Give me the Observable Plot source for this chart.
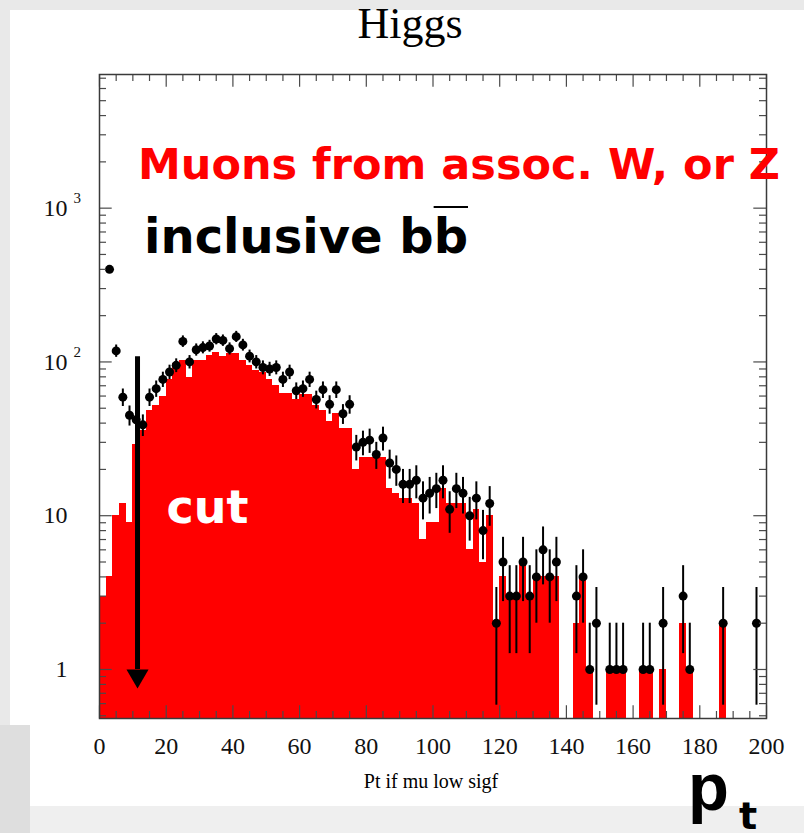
<!DOCTYPE html>
<html><head><meta charset="utf-8">
<script src="https://cdn.jsdelivr.net/npm/d3@7"></script>
<script src="https://cdn.jsdelivr.net/npm/@observablehq/plot@0.6"></script>
<style>
html,body{margin:0;padding:0;}
body{width:804px;height:833px;overflow:hidden;background:#e9e9e9;}
#stage{position:relative;width:804px;height:833px;}
.panel{position:absolute;left:10px;top:10px;width:794px;height:796px;background:#fff;}
.band{position:absolute;left:30px;top:806px;width:774px;height:27px;background:#efefef;}
.block{position:absolute;left:0;top:725px;width:30px;height:108px;background:#dedede;}
#chart{position:absolute;left:0;top:0;}
.ann{position:absolute;white-space:nowrap;line-height:1;margin:0;}
#title{left:410px;top:2.2px;transform:translateX(-50%);font-family:"Liberation Serif",serif;font-size:44px;color:#000;}
#sig{left:138px;top:142.6px;font-family:"DejaVu Sans",sans-serif;font-weight:bold;font-size:43px;color:#ff0000;}
#bkg{left:144px;top:212.4px;font-family:"DejaVu Sans",sans-serif;font-weight:bold;font-size:48px;color:#000;}
#bkg .ov{text-decoration:overline;text-decoration-thickness:2px;}
#cut{left:166.5px;top:484px;font-family:"DejaVu Sans",sans-serif;font-weight:bold;font-size:46px;color:#fff;}
#xlab{left:431px;top:771px;transform:translateX(-50%);font-family:"Liberation Serif",serif;font-size:20px;color:#000;}
#pt{left:688px;top:760px;line-height:0.8;font-family:"Liberation Sans",Arial,sans-serif;font-weight:bold;font-size:67px;color:#000;}
#ptsub{left:739px;top:802px;line-height:0.75;font-family:"DejaVu Sans",sans-serif;font-weight:bold;font-size:38px;color:#000;}
</style></head>
<body><div id="stage">
<div class="panel"></div><div class="band"></div><div class="block"></div>
<div id="chart"></div>
<div class="ann" id="title">Higgs</div>
<div class="ann" id="sig">Muons from assoc. W, or Z</div>
<div class="ann" id="bkg">inclusive b<span class="ov">b</span></div>
<div class="ann" id="cut">cut</div>
<div class="ann" id="xlab">Pt if mu low sigf</div>
<div class="ann" id="pt">p</div>
<div class="ann" id="ptsub">t</div>
</div>
<script>
// ---- data ----
const binWidth = 2;                       // GeV per bin, 0..200
const binLow = d3.range(0, 200, binWidth); // bin lower edges
// red histogram: muons from associated W or Z
const signal = [3,4,10,12,9,29,36,48,52,60,
  77,97,102,79,102,102,110,116,108,113,
  113,102,95,88,85,77,70,62,62,57,
  61,61,52,48,41,46,37,37,20,24,
  24,24,24,15,14,13,13,12,7,9,
  9,15,12,12,12,6,11,5,10,2,
  4,3,3,5,3,4,4,4,4,0,
  0,2,4,1,0,0,1,1,1,0,
  0,1,1,0,1,0,0,2,1,0,
  0,0,0,2,0,0,0,0,0,0];
// black points: inclusive bb (counts)
const inclusive = [null,400,118,59,45,42,39,59,67,77,
  86,95,136,100,120,124,127,141,138,122,
  146,129,109,100,92,90,92,77,86,65,
  67,77,57,66,53,66,46,53,28,30,
  31,25,32,22,20,16,16,17,13,14,
  15,17,11,15,14,10,13,8,12,2,
  5,3,3,5,3,4,6,4,5,null,
  null,3,4,1,2,null,1,1,1,null,
  null,1,1,null,2,null,null,3,1,null,
  null,null,null,2,null,null,null,null,2,null];
const cutPt = 11.4;            // cut position (GeV)
const cutArrowTop = 108;       // arrow starts here (counts)
const cutArrowBase = 1;        // arrow head base
const cutArrowHead = 0.91;     // arrow head centre
const xMajorTicks = [0,20,40,60,80,100,120,140,160,180,200];
const xMinorTicks = d3.range(0, 201, 5).filter(d => d % 20 !== 0);
const yMajorTicks = [1,10,100,1000];
const yMinorTicks = [0.5,0.6,0.7,0.8,0.9].concat(...[1,10,100,1000].map(dec => [2,3,4,5,6,7,8,9].map(m => m*dec))).filter(v => v < 7400);
const yDomain = [0.48, 7400];

// ---- derived tables ----
const sigRows = binLow.map((lo, i) => ({x1: lo, x2: lo + binWidth, v: signal[i]})).filter(d => d.v > 0);
const bkgRows = binLow.map((lo, i) => ({xc: lo + binWidth/2, n: inclusive[i]})).filter(d => d.n != null && d.n > 0)
  .map(d => { const e = Math.sqrt(d.n); return {...d, lo: d.n - e > 0 ? d.n - e : d.n, hi: d.n + e}; });

const W = 804, H = 760, mL = 99, mR = 38, mT = 74, mB = 42;
const fw = W - mL - mR, fh = H - mT - mB;
const majLen = 12.7, minLen = 7;
const tickColor = "#4a4a4a";

const triangleDown = {
  draw(context, size) {
    const y = Math.sqrt(size / (Math.sqrt(3) * 3));
    context.moveTo(0, y * 2);
    context.lineTo(-Math.sqrt(3) * y, -y);
    context.lineTo(Math.sqrt(3) * y, -y);
    context.closePath();
  }
};

const chart = Plot.plot({
  width: W, height: H,
  marginLeft: mL, marginRight: mR, marginTop: mT, marginBottom: mB,
  style: {background: "transparent", fontFamily: "'Liberation Serif', serif", color: "#111"},
  x: {domain: [0, 200]},
  y: {type: "log", domain: yDomain},
  marks: [
    Plot.rect(sigRows, {x1: "x1", x2: "x2", y1: yDomain[0], y2: "v", fill: "#ff0000", shapeRendering: "crispEdges", clip: true}),
    Plot.ruleX(bkgRows, {x: "xc", y1: "lo", y2: "hi", stroke: "#000", strokeWidth: 2, clip: true}),
    Plot.dot(bkgRows, {x: "xc", y: "n", r: 4.5, fill: "#000", stroke: null, clip: true}),
    // cut arrow
    Plot.ruleX([cutPt], {x: d => d, y1: cutArrowBase, y2: cutArrowTop, stroke: "#000", strokeWidth: 5}),
    Plot.dot([cutPt], {x: d => d, y: cutArrowHead, symbol: triangleDown, r: 8.2, fill: "#000", stroke: null}),
    // inward ticks, left / right
    Plot.tickY(yMajorTicks, {y: d => d, insetRight: fw - majLen, stroke: tickColor, strokeWidth: 1.2}),
    Plot.tickY(yMinorTicks, {y: d => d, insetRight: fw - minLen, stroke: tickColor, strokeWidth: 1.2}),
    Plot.tickY(yMajorTicks, {y: d => d, insetLeft: fw - majLen, stroke: tickColor, strokeWidth: 1.2}),
    Plot.tickY(yMinorTicks, {y: d => d, insetLeft: fw - minLen, stroke: tickColor, strokeWidth: 1.2}),
    // inward ticks, bottom / top
    Plot.tickX(xMajorTicks, {x: d => d, insetTop: fh - majLen, stroke: tickColor, strokeWidth: 1.2}),
    Plot.tickX(xMinorTicks, {x: d => d, insetTop: fh - minLen, stroke: tickColor, strokeWidth: 1.2}),
    Plot.tickX(xMajorTicks, {x: d => d, insetBottom: fh - majLen, stroke: tickColor, strokeWidth: 1.2}),
    Plot.tickX(xMinorTicks, {x: d => d, insetBottom: fh - minLen, stroke: tickColor, strokeWidth: 1.2}),
    Plot.frame({stroke: "#3a3a3a", strokeWidth: 1.5}),
    Plot.axisX(xMajorTicks, {tickSize: 0, tickPadding: 18, fontSize: 24, label: null, fill: "#111"}),
    Plot.axisY(yMajorTicks, {tickSize: 0, tickPadding: 32, fontSize: 24, label: null, fill: "#111",
      tickFormat: d => d === 1 ? "1" : "10"}),
    Plot.text(yMajorTicks.filter(d => d >= 100), {x: 0, y: d => d, text: d => String(Math.round(Math.log10(d))),
      dx: -26, dy: -10, textAnchor: "start", fontSize: 15, fill: "#111"})
  ]
});
document.getElementById("chart").appendChild(chart);
</script>
</body></html>
